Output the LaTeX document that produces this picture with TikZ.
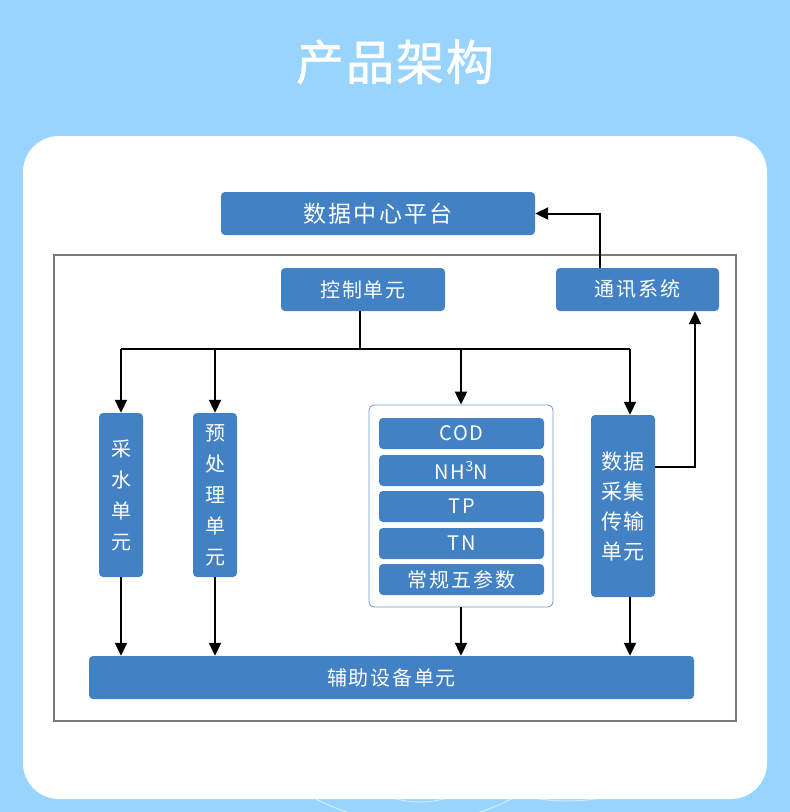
\documentclass[tikz,border=0pt]{standalone}
\usepackage{fontspec}
\setmainfont[LetterSpace=9]{Noto Sans CJK SC}
\newfontfamily\titlefont[FakeBold=1.2,LetterSpace=4]{Noto Sans CJK SC}
\usetikzlibrary{arrows.meta}
\definecolor{skyblue}{HTML}{98D4FE}
\definecolor{boxblue}{HTML}{4281C3}
\definecolor{framegray}{HTML}{7A7A7A}
\tikzset{
  unitbox/.style={fill=boxblue, rounded corners=4pt, text=white, inner sep=0pt,
    font=\fontsize{20}{31}\selectfont, align=center},
  flow/.style={line width=2pt, -{Triangle[length=13pt,width=12pt]}},
  wire/.style={line width=2pt},
}
\begin{document}
\begin{tikzpicture}[x=1pt,y=-1pt]
  \useasboundingbox (0,0) rectangle (790,812);
  \fill[skyblue] (0,0) rectangle (790,812);
  % faint rings behind the card
  \begin{scope}
    \clip (0,0) rectangle (790,812);
    \draw[white, opacity=0.6, line width=1pt] (413.5,614) circle (209);
    \draw[white, opacity=0.5, line width=1pt] (420,709) circle (93);
    \draw[white, opacity=0.5, line width=1pt] (567,618) circle (183);
  \end{scope}
  \fill[white, rounded corners=36pt] (23,136) rectangle (767,799);
  \node[text=white, font=\fontsize{48}{48}\selectfont\titlefont] (title) at (395,62) {产品架构};
  \draw[framegray, line width=1.5pt] (54,255) rectangle (736,721);

  \node[unitbox, minimum width=314pt, minimum height=43pt, font=\fontsize{23}{23}\selectfont] (center) at (378,213.5) {数据中心平台};
  \node[unitbox, minimum width=164pt, minimum height=43pt] (ctrl) at (363,289.5) {控制单元};
  \node[unitbox, minimum width=163pt, minimum height=43pt] (comm) at (637.5,289.5) {通讯系统};
  \node[unitbox, minimum width=44pt, minimum height=164pt] (water) at (121,495) {采\\水\\单\\元};
  \node[unitbox, minimum width=44pt, minimum height=164pt] (pre) at (215,495) {预\\处\\理\\单\\元};
  \node[draw=boxblue!80, line width=0.8pt, fill=white, rounded corners=5pt, minimum width=184pt, minimum height=202pt] (module) at (461,506) {};
  \foreach \y/\name/\txt in {433.5/cod/COD, 470.5/nh/NH\textsuperscript{3}N, 506.5/tp/TP, 543.5/tn/TN, 579.5/five/常规五参数}
    \node[unitbox, minimum width=165pt, minimum height=31pt] (\name) at (461.5,\y) {\txt};
  \node[unitbox, minimum width=64pt, minimum height=182pt, font=\fontsize{21}{30}\selectfont] (daq) at (623,506) {数据\\采集\\传输\\单元};
  \node[unitbox, minimum width=605pt, minimum height=43pt] (aux) at (391.5,677.5) {辅助设备单元};

  % links
  \draw[flow] ([xshift=-37.5pt]comm.north) |- (center.east);
  \draw[flow] ([yshift=39pt]daq.east) -| ([xshift=57.5pt]comm.south);
  \coordinate (bus) at ([xshift=-3pt,yshift=-38pt]ctrl.south);
  \draw[wire] ([xshift=-3pt]ctrl.south) -- (bus);
  \coordinate (daqin) at ([xshift=7pt]daq.north);
  \coordinate (daqout) at ([xshift=7pt]daq.south);
  \draw[wire] (bus -| water.north) -- (bus -| daqin);
  \foreach \t in {water, pre, module}
    \draw[flow] (bus -| \t.north) -- (\t.north);
  \draw[flow] (bus -| daqin) -- (daqin);
  \foreach \t in {water, pre, module}
    \draw[flow] (\t.south) -- (\t.south |- aux.north);
  \draw[flow] (daqout) -- (daqout |- aux.north);
\end{tikzpicture}
\end{document}
